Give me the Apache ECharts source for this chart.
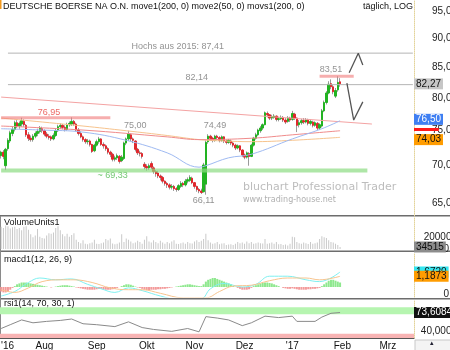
<!DOCTYPE html>
<html>
<head>
<meta charset="utf-8">
<script src="https://cdn.jsdelivr.net/npm/echarts@6/dist/echarts.min.js"></script>
<style>
html, body { margin: 0; padding: 0; background: #fff; }
#chart { width: 450px; height: 350px; }
</style>
</head>
<body>
<div id="chart"></div>
<script>
const FONT = 'Liberation Sans, Arial, sans-serif';

// trading calendar
const startDate = '2016-07-05';
const dayCount = 182;
const holidays = ['2016-12-26'];
const monthNames = ['Jan', 'Feb', 'Mrz', 'Apr', 'Mai', 'Jun', 'Jul', 'Aug', 'Sep', 'Okt', 'Nov', 'Dez'];

// daily candles [open, close, low, high]
const candles = [
  [71.4, 71.9, 71.0, 72.1], [71.9, 71.3, 70.9, 72.2], [70.0, 72.3, 69.4, 72.5], [72.4, 73.6, 72.1, 73.9],
  [73.5, 74.7, 73.2, 75.0], [74.6, 75.2, 74.2, 75.6], [75.2, 76.2, 74.9, 76.5], [76.2, 75.7, 75.4, 76.6],
  [75.7, 76.1, 75.3, 76.4], [76.0, 76.5, 75.6, 76.95], [76.4, 75.9, 75.6, 76.7], [75.8, 74.4, 74.1, 76.0],
  [74.4, 73.9, 73.5, 74.8], [73.9, 73.7, 73.4, 74.3], [73.7, 74.2, 73.4, 74.5], [74.2, 74.6, 73.9, 74.9],
  [74.6, 74.9, 74.2, 75.3], [74.9, 75.4, 74.6, 75.7], [75.3, 75.0, 74.7, 75.6], [75.0, 74.5, 74.2, 75.2],
  [74.5, 74.2, 73.9, 74.8], [74.2, 74.0, 73.7, 74.5], [74.1, 73.8, 73.5, 74.3], [73.8, 74.3, 73.6, 74.6],
  [74.3, 75.0, 74.1, 75.3], [75.0, 75.6, 74.8, 75.9], [75.6, 75.8, 75.3, 76.1], [75.8, 75.5, 75.2, 76.0],
  [75.5, 75.2, 74.9, 75.8], [75.2, 75.9, 75.0, 76.2], [75.9, 76.1, 75.6, 76.4], [76.0, 76.4, 75.7, 77.0],
  [76.4, 76.0, 75.7, 76.6], [76.0, 75.1, 74.9, 76.2], [75.1, 74.6, 74.3, 75.4], [74.6, 74.1, 73.9, 74.9],
  [74.1, 73.7, 73.4, 74.3], [73.7, 73.4, 73.1, 73.9], [73.4, 73.5, 73.0, 73.8], [73.5, 73.0, 72.7, 73.7],
  [73.0, 72.0, 71.8, 73.1], [72.1, 72.9, 71.9, 73.1], [72.9, 73.4, 72.7, 73.7], [73.4, 73.8, 73.1, 74.1],
  [73.8, 73.0, 72.8, 73.9], [73.0, 72.8, 72.4, 73.3], [72.8, 72.4, 72.1, 73.0], [72.4, 71.9, 71.6, 72.6],
  [71.9, 71.6, 71.2, 72.1], [71.6, 70.9, 70.6, 71.8], [70.9, 71.1, 70.6, 71.4], [71.1, 71.4, 70.8, 71.7],
  [71.3, 70.6, 70.3, 71.5], [70.7, 71.2, 70.5, 71.5], [71.0, 73.2, 70.8, 73.4], [73.2, 73.8, 72.9, 74.0],
  [73.8, 74.5, 73.5, 75.0], [74.4, 73.8, 73.5, 74.6], [73.8, 73.6, 73.2, 74.0], [73.5, 72.3, 72.0, 73.6],
  [72.3, 71.8, 71.5, 72.5], [71.8, 71.7, 71.3, 72.1], [71.7, 71.3, 71.0, 71.9], [70.2, 69.9, 69.5, 70.5],
  [69.9, 69.7, 69.3, 70.2], [69.7, 70.0, 69.4, 70.3], [70.3, 69.8, 69.5, 70.6], [69.7, 69.2, 68.9, 69.9],
  [69.2, 68.9, 68.5, 69.4], [69.0, 68.6, 68.3, 69.3], [68.6, 68.4, 68.0, 68.8], [68.4, 67.9, 67.6, 68.6],
  [67.9, 67.6, 67.3, 68.0], [67.6, 67.4, 67.0, 67.8], [67.4, 67.1, 66.8, 67.6], [67.1, 67.2, 66.8, 67.5],
  [67.2, 66.9, 66.6, 67.4], [66.9, 66.8, 66.5, 67.1], [66.8, 67.3, 66.6, 67.5], [67.2, 67.6, 67.0, 67.9],
  [67.6, 67.4, 67.1, 67.8], [67.4, 67.9, 67.2, 68.2], [67.9, 68.1, 67.6, 68.4], [68.0, 68.4, 67.8, 68.7],
  [68.3, 67.7, 67.5, 68.5], [67.7, 67.2, 66.9, 67.8], [67.2, 66.8, 66.5, 67.3], [66.8, 66.6, 66.3, 67.0],
  [66.6, 66.4, 66.2, 66.9], [66.5, 70.1, 66.4, 70.4], [67.5, 73.3, 66.11, 73.6], [73.4, 74.2, 73.1, 74.49],
  [74.2, 73.9, 73.5, 74.4], [73.9, 73.6, 73.3, 74.1], [73.6, 74.2, 73.4, 74.4], [74.2, 74.0, 73.6, 74.4],
  [74.0, 73.6, 73.3, 74.2], [73.6, 74.1, 73.4, 74.3], [74.1, 73.5, 73.2, 74.2], [73.5, 73.3, 73.0, 73.7],
  [73.3, 73.6, 73.1, 73.8], [73.5, 73.2, 72.9, 73.7], [73.2, 72.9, 72.6, 73.4], [72.9, 72.5, 72.2, 73.1],
  [72.5, 72.8, 72.3, 73.0], [72.8, 72.2, 71.9, 72.9], [72.2, 71.5, 71.2, 72.3], [71.5, 71.2, 70.9, 71.7],
  [71.2, 71.8, 71.0, 72.0], [71.7, 71.3, 70.0, 71.9], [71.3, 72.9, 71.2, 73.1], [72.9, 73.9, 72.7, 74.1],
  [73.9, 74.4, 73.7, 74.7], [74.4, 75.1, 74.2, 75.3], [75.0, 75.4, 74.7, 75.7], [75.4, 75.9, 75.1, 76.1],
  [75.9, 77.7, 75.8, 77.9], [77.6, 77.4, 77.0, 77.9], [77.4, 76.9, 76.6, 77.5], [76.9, 77.1, 76.6, 77.4],
  [77.0, 77.2, 76.8, 77.5], [77.2, 76.7, 76.4, 77.3], [76.7, 76.8, 76.4, 77.1], [76.8, 77.0, 76.6, 77.3],
  [77.0, 76.6, 76.3, 77.2], [76.6, 76.3, 76.0, 76.9], [76.4, 76.9, 76.2, 77.2], [76.9, 76.6, 76.3, 77.1],
  [76.7, 77.6, 76.5, 78.0], [77.5, 76.9, 76.6, 77.7], [76.9, 75.8, 74.8, 77.0], [75.9, 76.2, 75.5, 76.6],
  [76.2, 76.5, 75.9, 76.8], [76.5, 76.3, 76.0, 76.9], [76.3, 76.6, 76.1, 76.9], [76.6, 76.1, 75.8, 76.8],
  [76.1, 76.4, 75.8, 76.7], [76.3, 75.8, 75.5, 76.5], [75.8, 76.2, 75.6, 76.4], [76.1, 75.4, 75.1, 76.3],
  [75.4, 75.9, 75.1, 76.1], [75.7, 78.0, 75.5, 78.3], [78.0, 79.3, 77.8, 79.6], [79.3, 80.8, 79.0, 81.1],
  [80.8, 82.2, 80.6, 82.7], [82.3, 81.8, 81.4, 83.0], [81.8, 81.0, 80.6, 82.1], [80.3, 81.2, 80.0, 81.6],
  [81.3, 82.5, 81.0, 83.51], [82.6, 82.27, 81.8, 83.2]
];

// volume in thousand units
const volumesK = [
  380, 360, 400, 390, 350, 370, 380, 340, 360, 320, 380, 390, 330,
  250, 200, 230, 340, 210, 190,
  180, 230, 270, 260, 280, 360, 390, 320, 250, 220, 260, 210, 240, 270,
  160, 120, 100, 150, 90, 80, 100, 110, 160, 90, 85, 100, 110, 170, 150, 180, 95, 80,
  90, 110, 250, 120, 180, 160, 130, 100, 110, 140, 120, 90, 160, 220, 130, 110, 150, 120, 100, 140,
  110, 90, 120, 100, 130, 150, 90, 85, 100, 110, 90, 120, 100, 95, 130, 150, 120, 140, 170, 260, 150, 110, 90, 100, 120, 80, 95, 100,
  70, 75, 80, 70, 90, 120, 100, 110, 90, 130, 100, 120, 90, 100, 110, 100, 95, 170, 90, 100, 110, 90, 120, 80, 85,
  70, 75, 60, 90, 210, 200, 120, 100, 90, 110, 100, 85, 120, 90, 100, 110, 170, 220, 200, 190, 150, 120, 110, 90, 70, 34.515
];

// moving averages read at a few points [day index, price]
const move1Pts = [[0, 75.7], [36, 75.1], [73, 74.1], [87, 73.7], [110, 73.9], [128, 74.4], [149, 75.0]];
const move2Pts = [[0, 75.3], [18, 75.1], [36, 74.8], [55, 73.6], [73, 71.8], [87, 69.8], [90, 70.0], [100, 71.1], [110, 71.6], [128, 73.8], [141, 75.3], [149, 76.5]];
const movs1Pts = [[0, 76.9], [36, 75.7], [55, 75.0], [73, 74.3], [87, 73.7], [98, 73.5], [110, 73.4], [128, 73.6], [149, 74.03]];
const trendPts = [[0, 80.15], [163, 76.0]];

// horizontal marks [price, fromIdx, toIdx]
const high2015 = [87.41, 3, 181];
const level8214 = [82.14, 3, 181];
const resist7695 = [76.95, 0, 48];
const support6933 = [69.33, 0, 161];
const top8351 = [83.51, 140, 155];
const arrowUp = [[153, 84.1], [157, 87.4], [159, 85.4]];
const arrowDown = [[152, 82.4], [155, 76.6], [159, 79.4]];

// text notes [day index, price, text, color, align]
const notes = [
  [98, 88.64, 'Hochs aus 2015: 87,41', '#777', 'right'],
  [86, 83.38, '82,14', '#777', 'center'],
  [145, 84.7, '83,51', '#777', 'center'],
  [21, 77.7, '76,95', '#e8413c', 'center'],
  [59, 75.85, '75,00', '#777', 'center'],
  [94, 75.85, '74,49', '#777', 'center'],
  [49, 68.7, '~ 69,33', '#4cb84c', 'center'],
  [89, 65.4, '66,11', '#777', 'center']
];

// right-hand value tags [value, text, background, text colour]
const priceTags = [
  [82.27, '82,27', '#c6c6c6', '#111'],
  [76.50, '76,50', '#3f7ff2', '#fff'],
  [75.1, '', '#ff1a1a', '#ff1a1a'],
  [74.03, '74,03', '#ff9c00', '#111']
];
const volumeTags = [[34.515, '34515', '#8c8c8c', '#111']];
const macdTags = [[1.672, '1,6720', '#33e6f0', '#111'], [1.1873, '1,1873', '#ff9c00', '#111']];
const rsiTags = [[73.6084, '73,6084', '#111', '#fff']];

// MACD
const macdPts = [[0, -1.0], [6, -0.5], [12, 0.5], [17, 1.0], [24, 0.8], [31, 0.9], [38, 0.3], [44, -0.2], [50, -0.6], [56, -0.1], [62, -0.4], [70, -1.0], [78, -1.4], [88, -1.3], [92, -0.2], [98, 0.4], [106, 0.0], [112, 0.3], [118, 1.2], [126, 1.2], [134, 0.8], [140, 0.6], [149, 1.67]];
const signalPts = [[0, -0.3], [6, -0.6], [12, -0.1], [18, 0.6], [26, 0.8], [32, 0.8], [40, 0.5], [48, -0.1], [56, -0.3], [62, -0.3], [70, -0.7], [80, -1.2], [90, -1.2], [96, -0.5], [102, 0.1], [110, 0.2], [118, 0.7], [126, 1.0], [134, 1.0], [140, 0.8], [149, 1.19]];
const macdHist = [
  -0.5, -0.6, -0.6, -0.5, -0.3, -0.1, 0.1, 0.3, 0.4,
  0.5, 0.5, 0.5, 0.45, 0.4, 0.35, 0.3, 0.25, 0.2, 0.15, 0.1, 0.05,
  0, -0.05, 0, 0.05, 0.1, 0.15, 0.2, 0.2, 0.2, 0.15, 0.1, 0.05, -0.05, -0.1, -0.15, -0.2, -0.25, -0.3, -0.3, -0.3,
  -0.3, -0.25, -0.2, -0.2, -0.25, -0.3, -0.3, -0.3, -0.25, -0.2, -0.1, 0, 0.1, 0.2, 0.3, 0.3, 0.25, 0.15, 0.05, -0.05,
  -0.1, -0.2, -0.3, -0.35, -0.35, -0.3, -0.3, -0.3, -0.25, -0.25, -0.2, -0.2, -0.15, -0.1, -0.05, 0, 0.05, 0.1, 0.15, 0.2, 0.25, 0.3, 0.3, 0.25, 0.2, 0.15,
  0.1, 0.1, 0.3, 0.6, 0.8, 0.9, 1.0, 1.0, 0.9, 0.8, 0.7, 0.6, 0.5, 0.4,
  0.3, 0.1, 0, -0.1, -0.2, -0.3, -0.3, -0.3, -0.25, -0.1, 0.1, 0.2, 0.3, 0.4, 0.45,
  0.5, 0.5, 0.45, 0.4, 0.3, 0.2, 0.1, 0, -0.1, -0.15, -0.2, -0.2, -0.15, -0.2, -0.25, -0.3, -0.3, -0.3, -0.3, -0.25, -0.25, -0.2, -0.2, -0.15, -0.1,
  0.1, 0.3, 0.5, 0.7, 0.8, 0.8, 0.7, 0.6, 0.5
];

// RSI
const rsiPts = [[0, 40], [4, 48], [9, 58], [14, 52], [20, 55], [26, 57], [31, 60], [36, 50], [42, 48], [50, 44], [56, 54], [62, 42], [67, 38], [75, 34], [82, 40], [87, 33], [90, 65], [95, 62], [100, 58], [106, 46], [110, 52], [116, 66], [122, 63], [128, 66], [130, 55], [138, 55], [141, 64], [145, 72], [149, 73.6]];

// build the trading day list
function tradingDays(start, n) {
  const out = [];
  const d = new Date(start + 'T12:00:00Z');
  while (out.length < n) {
    const iso = d.toISOString().slice(0, 10);
    const wd = d.getUTCDay();
    if (wd !== 0 && wd !== 6 && holidays.indexOf(iso) < 0) out.push(iso);
    d.setUTCDate(d.getUTCDate() + 1);
  }
  return out;
}
const days = tradingDays(startDate, dayCount);

function isMonthStart(i) {
  return i === 0 || days[i].slice(5, 7) !== days[i - 1].slice(5, 7);
}
function monthLabel(i) {
  const m = +days[i].slice(5, 7);
  if (i === 0 || m === 1) return "'" + days[i].slice(2, 4);
  return monthNames[m - 1];
}

const L = Math.log;
const fmtDe = (v, n) => v.toFixed(n).replace('.', ',');
const logPts = pts => pts.map(p => [p[0], L(p[1])]);
const hSeg = h => [[h[1], L(h[0])], [h[2], L(h[0])]];

const chart = echarts.init(document.getElementById('chart'));

const grids = [
  { left: 0, right: 36, top: 0, height: 216, outerBoundsMode: 'none' },
  { left: 0, right: 36, top: 217, height: 32, outerBoundsMode: 'none' },
  { left: 0, right: 36, top: 253, height: 44, outerBoundsMode: 'none' },
  { left: 0, right: 36, top: 300, height: 38, outerBoundsMode: 'none' }
];

const xAxes = grids.map((g, k) => ({
  type: 'category',
  gridIndex: k,
  data: days,
  boundaryGap: true,
  axisTick: { show: false },
  axisLine: { show: k === 3, lineStyle: { color: '#555' } },
  axisLabel: {
    show: k === 3,
    interval: i => isMonthStart(i),
    formatter: (v, i) => i === 0 ? "{first|'16}" : monthLabel(i),
    margin: 3,
    color: '#111',
    fontSize: 10,
    fontFamily: FONT,
    rich: { first: { padding: [0, 0, 0, 13], fontSize: 10, fontFamily: FONT, color: '#111' } }
  },
  splitLine: { show: false }
}));

const yCommon = {
  position: 'right',
  axisTick: { show: false },
  splitLine: { show: false },
  axisLine: { show: true, lineStyle: { color: '#e3d49a', type: 'dotted' } }
};
const labelCommon = { align: 'right', margin: 43, fontSize: 10, color: '#222', fontFamily: FONT };
const zeroRich = { z: { padding: [0, 8, 0, 0], fontSize: 10, color: '#222', fontFamily: FONT } };

const yAxes = [
  Object.assign({}, yCommon, {
    gridIndex: 0, type: 'value', min: L(63.39), max: L(97.07),
    axisLabel: Object.assign({}, labelCommon, {
      customValues: [65, 70, 75, 80, 85, 90, 95].map(L),
      formatter: v => fmtDe(Math.exp(v), 2)
    })
  }),
  Object.assign({}, yCommon, {
    gridIndex: 1, type: 'value', min: 0, max: 547,
    axisLabel: Object.assign({}, labelCommon, {
      customValues: [0, 200],
      formatter: v => v === 0 ? '{z|0}' : String(v * 1000),
      rich: zeroRich
    })
  }),
  Object.assign({}, yCommon, {
    gridIndex: 2, type: 'value', min: -1.11, max: 3.78,
    axisLabel: Object.assign({}, labelCommon, {
      customValues: [0],
      formatter: () => '{z|0}',
      rich: { z: { padding: [14, 8, 0, 0], fontSize: 10, color: '#222', fontFamily: FONT } }
    })
  }),
  Object.assign({}, yCommon, {
    gridIndex: 3, type: 'value', min: 20, max: 100,
    axisLabel: Object.assign({}, labelCommon, {
      customValues: [40],
      formatter: v => '{d|' + fmtDe(v, 4) + '}',
      rich: { d: { padding: [5, 0, 0, 0], fontSize: 10, color: '#222', fontFamily: FONT } }
    })
  })
];

function lineSeries(name, data, color, width, xi, extra) {
  return Object.assign({
    name, type: 'line', xAxisIndex: xi, yAxisIndex: xi, data,
    showSymbol: false, symbol: 'none', silent: true, animation: false,
    lineStyle: { color, width }
  }, extra || {});
}

// value boxes drawn just right of the plot, on the axis strip
function tagLines(tags, toAxis) {
  return {
    symbol: 'none', silent: true, animation: false,
    lineStyle: { color: 'rgba(0,0,0,0)', width: 1, type: 'solid' },
    data: tags.map(t => ({
      yAxis: toAxis(t[0]),
      label: t[1] ? {
        show: true, position: 'end', distance: 0, formatter: t[1], opacity: 1,
        backgroundColor: t[2], color: t[3], padding: [1, 2, 0, 2],
        fontSize: 10, fontFamily: FONT
      } : {
        show: true, position: 'end', distance: 0, formatter: ' ', opacity: 1,
        backgroundColor: t[2], color: t[3], padding: [0, 12, 0, 12],
        fontSize: 3, lineHeight: 3
      }
    }))
  };
}

const series = [
  // wicks
  {
    type: 'candlestick', xAxisIndex: 0, yAxisIndex: 0, barWidth: 1, silent: true, animation: false,
    data: candles.map(c => [L(c[2]), L(c[2]), L(c[2]), L(c[3])]),
    itemStyle: { color: '#9a9a9a', color0: '#9a9a9a', borderColor: '#9a9a9a', borderColor0: '#9a9a9a', borderWidth: 1 }
  },
  // bodies
  {
    type: 'candlestick', xAxisIndex: 0, yAxisIndex: 0, barWidth: 2, silent: true, animation: false,
    data: candles.map(c => [L(c[0]), L(c[1]), L(Math.min(c[0], c[1])), L(Math.max(c[0], c[1]))]),
    itemStyle: { color: '#22b322', color0: '#e0282d', borderColor: '#22b322', borderColor0: '#e0282d', borderWidth: 1 }
  },
  lineSeries('trend', logPts(trendPts), '#f4a3a3', 1, 0),
  lineSeries('movs1', logPts(movs1Pts), '#f7c48e', 1, 0, { smooth: 0.4 }),
  lineSeries('move1', logPts(move1Pts), '#f08b8b', 1, 0, { smooth: 0.4 }),
  lineSeries('move2', logPts(move2Pts), '#9fbaf2', 1, 0, { smooth: 0.4 }),
  lineSeries('h87', hSeg(high2015), '#b4b4b4', 1, 0),
  lineSeries('h82', hSeg(level8214), '#b4b4b4', 1, 0),
  lineSeries('r77', hSeg(resist7695), 'rgba(240,120,120,0.6)', 3, 0),
  lineSeries('s69', hSeg(support6933), 'rgba(140,220,130,0.7)', 4, 0),
  lineSeries('t83', hSeg(top8351), 'rgba(240,120,120,0.6)', 3, 0),
  lineSeries('up', logPts(arrowUp), '#555', 1.3, 0),
  lineSeries('down', logPts(arrowDown), '#555', 1.3, 0),
  {
    type: 'scatter', xAxisIndex: 0, yAxisIndex: 0, symbolSize: 0, silent: true, animation: false,
    data: notes.map(n => ({
      value: [n[0], L(n[1])],
      label: { show: true, position: 'inside', formatter: n[2], color: n[3], align: n[4], fontSize: 9, fontFamily: FONT }
    }))
  },
  lineSeries('priceTags', [], '#000', 1, 0, { markLine: tagLines(priceTags, L) }),

  // volume
  {
    type: 'bar', xAxisIndex: 1, yAxisIndex: 1, data: volumesK, barWidth: 1, silent: true, animation: false,
    itemStyle: { color: '#c9c9c9' }
  },
  lineSeries('volTags', [], '#000', 1, 1, { markLine: tagLines(volumeTags, v => v) }),

  // macd
  {
    type: 'bar', xAxisIndex: 2, yAxisIndex: 2, data: macdHist, barWidth: 2, silent: true, animation: false,
    itemStyle: { color: p => p.value >= 0 ? '#8ee88e' : '#f39a9a' }
  },
  lineSeries('macd', macdPts, '#7ff0f0', 1, 2, { smooth: 0.4 }),
  lineSeries('signal', signalPts, '#f7c48e', 1, 2, { smooth: 0.4 }),
  lineSeries('macdTags', [], '#000', 1, 2, { markLine: tagLines(macdTags, v => v) }),

  // rsi
  lineSeries('rsi', rsiPts, '#8a8a8a', 1, 3, {
    markArea: {
      silent: true,
      itemStyle: { color: '#b6f5b0' },
      data: [
        [{ yAxis: 70 }, { yAxis: 85 }],
        [{ yAxis: 20, itemStyle: { color: '#f8b4b4' } }, { yAxis: 29 }]
      ]
    }
  }),
  lineSeries('rsiTags', [], '#000', 1, 3, { markLine: tagLines(rsiTags, v => v) })
];

const titleStyle = { fontSize: 9, fontWeight: 'normal', color: '#111', fontFamily: FONT };
const option = {
  animation: false,
  backgroundColor: '#fff',
  title: [
    { text: 'DEUTSCHE BOERSE NA O.N. move1(200, 0) move2(50, 0) movs1(200, 0)', left: 3, top: 2, padding: 0, textStyle: titleStyle },
    { text: 'täglich, LOG', left: 363, top: 2, padding: 0, textStyle: titleStyle },
    { text: 'VolumeUnits1', left: 4, top: 218, padding: 0, textStyle: titleStyle },
    { text: 'macd1(12, 26, 9)', left: 4, top: 255, padding: 0, textStyle: titleStyle },
    { text: 'rsi1(14, 70, 30, 1)', left: 4, top: 299, padding: 0, textStyle: titleStyle }
  ],
  graphic: [
    { type: 'rect', left: 0, top: 0, shape: { width: 1.5, height: 9 }, style: { fill: '#f39a1e' } },
    { type: 'text', left: 243, top: 182, silent: true, style: { text: 'bluchart Professional Trader', fill: '#bdbdbd', font: '11px DejaVu Sans' } },
    { type: 'text', left: 243, top: 196, silent: true, style: { text: 'www.trading-house.net', fill: '#b0b0b0', font: '8px DejaVu Sans' } },
    { type: 'rect', left: 0, top: 215, shape: { width: 450, height: 1.5 }, style: { fill: '#6d6d6d' } },
    { type: 'rect', left: 0, top: 250.5, shape: { width: 450, height: 1.5 }, style: { fill: '#6d6d6d' } },
    { type: 'rect', left: 0, top: 298, shape: { width: 450, height: 1.5 }, style: { fill: '#6d6d6d' } },
    { type: 'rect', left: 0, top: 216, shape: { width: 1, height: 122 }, style: { fill: '#8a8a8a' } },
    { type: 'rect', left: 414.5, top: 339.5, shape: { width: 40, height: 14 }, style: { fill: '#f4f4f4', stroke: '#c8c8c8', lineWidth: 1 } },
    { type: 'text', left: 430, top: 340, silent: true, style: { text: '▴', fill: '#223', font: '7px DejaVu Sans' } }
  ],
  grid: grids,
  xAxis: xAxes,
  yAxis: yAxes,
  series
};
chart.setOption(option);
</script>
</body>
</html>
